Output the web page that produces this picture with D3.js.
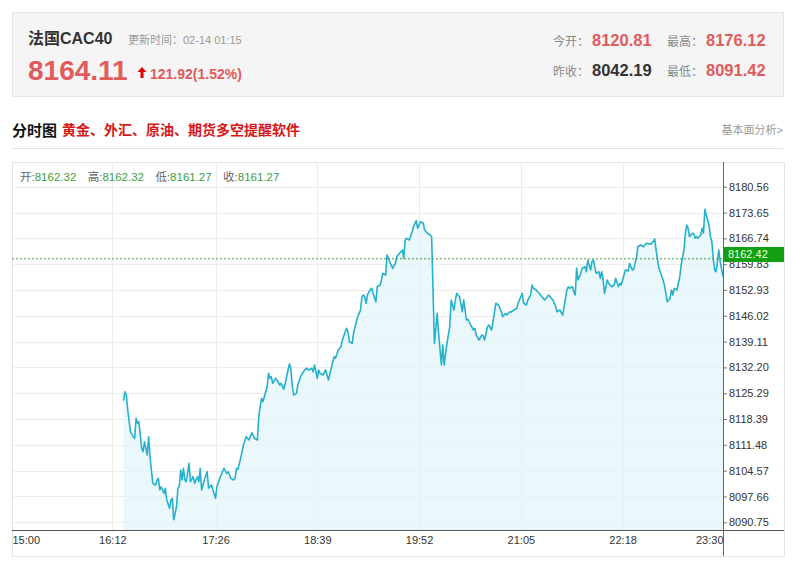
<!DOCTYPE html>
<html>
<head>
<meta charset="utf-8">
<script src="https://cdn.jsdelivr.net/npm/d3@7"></script>
<style>
  body { margin: 0; background: #fff; }
  svg text { font-family: "Liberation Sans", Arial, "Noto Sans CJK SC", sans-serif; }
</style>
</head>
<body>
<div id="chart"></div>
<script>
// header texts
const indexName = "法国CAC40";
const updateTime = "更新时间：02-14 01:15";
const lastPrice = "8164.11";
const priceChange = "121.92(1.52%)";
const quoteLabels = ["今开：", "最高：", "昨收：", "最低："];
const quoteValues = ["8120.81", "8176.12", "8042.19", "8091.42"];
const sectionTitle = "分时图";
const adText = "黄金、外汇、原油、期货多空提醒软件";
const linkText = "基本面分析>";

// hover bar info
const ohlcLabels = ["开:", "高:", "低:", "收:"];
const ohlcValues = ["8162.32", "8162.32", "8161.27", "8161.27"];

// axes
const yTicks = [8180.56, 8173.65, 8166.74, 8159.83, 8152.93, 8146.02, 8139.11,
                8132.20, 8125.29, 8118.39, 8111.48, 8104.57, 8097.66, 8090.75];
const xTickLabels = ["15:00", "16:12", "17:26", "18:39", "19:52", "21:05", "22:18", "23:30"];

// minutes after 15:00 and price
const minutes = [80, 81, 82, 83, 85, 87, 88, 89, 90, 91, 93, 94, 95, 97, 98, 99, 101, 103, 104, 105,
  106, 107, 109, 110, 111, 113, 114, 115, 116, 118, 119, 120, 121, 122, 123, 124, 125, 127, 128, 130,
  131, 133, 134, 135, 136, 138, 140, 141, 143, 146, 147, 149, 152, 154, 155, 157, 159, 160, 161, 162,
  164, 166, 168, 170, 172, 174, 176, 177, 178, 179, 180, 182, 183, 184, 185, 186, 187, 189, 190, 192,
  193, 195, 196, 198, 199, 200, 201, 202, 204, 205, 207, 209, 211, 213, 215, 216, 217, 219, 220, 221,
  223, 225, 226, 227, 229, 231, 232, 234, 236, 237, 239, 240, 241, 242, 244, 245, 247, 248, 250, 251,
  252, 253, 254, 255, 256, 258, 259, 261, 262, 264, 265, 266, 268, 269, 271, 273, 275, 276, 278, 280,
  281, 282, 283, 285, 287, 288, 290, 291, 293, 295, 296, 298, 300, 301, 303, 305, 306, 308, 309, 310,
  312, 314, 315, 317, 318, 319, 321, 323, 324, 326, 327, 329, 331, 332, 333, 335, 337, 338, 339, 341,
  342, 344, 346, 347, 349, 351, 352, 354, 355, 357, 358, 360, 362, 363, 364, 366, 367, 369, 370, 372,
  373, 374, 376, 378, 379, 381, 382, 384, 385, 386, 388, 390, 391, 393, 395, 396, 398, 399, 400, 402,
  403, 404, 405, 406, 408, 409, 411, 412, 413, 415, 416, 417, 418, 419, 421, 422, 423, 424, 425, 427,
  428, 430, 432, 433, 435, 436, 437, 439, 440, 442, 443, 445, 446, 448, 449, 451, 453, 455, 458, 460,
  461, 462, 464, 465, 467, 468, 469, 470, 472, 473, 474, 475, 477, 479, 480, 482, 483, 484, 485, 486,
  488, 489, 490, 491, 492, 494, 495, 496, 497, 498, 500, 501, 502, 503, 504, 505, 506, 507, 508, 510];
const prices = [8123.29, 8125.70, 8124.81, 8120.80, 8114.99, 8113.65, 8113.23, 8118.58, 8117.24, 8117.67,
  8110.55, 8109.64, 8112.32, 8108.76, 8113.65, 8108.30, 8101.18, 8100.73, 8102.07, 8102.52,
  8099.39, 8100.27, 8098.51, 8099.85, 8096.72, 8094.49, 8096.72, 8097.17, 8091.42, 8094.92,
  8099.85, 8100.46, 8104.74, 8102.07, 8105.20, 8102.07, 8101.61, 8106.54, 8101.61, 8102.95,
  8101.18, 8102.95, 8101.61, 8105.20, 8099.39, 8102.07, 8104.29, 8099.85, 8100.73, 8097.17,
  8100.27, 8102.52, 8105.20, 8103.86, 8104.29, 8102.52, 8102.07, 8102.52, 8105.20, 8104.90,
  8107.87, 8111.43, 8113.65, 8112.77, 8114.73, 8113.23, 8112.77, 8119.01, 8121.68, 8123.93,
  8123.02, 8125.70, 8127.04, 8130.62, 8129.28, 8129.71, 8127.95, 8129.28, 8128.83, 8127.49,
  8127.95, 8126.34, 8127.95, 8131.51, 8133.11, 8131.96, 8127.49, 8124.81, 8125.27, 8127.49,
  8129.71, 8131.05, 8131.96, 8131.51, 8131.96, 8131.05, 8132.84, 8129.28, 8131.51, 8130.62,
  8130.17, 8131.51, 8130.17, 8128.83, 8131.96, 8135.06, 8134.64, 8136.86, 8137.74, 8139.53,
  8141.76, 8142.66, 8141.76, 8139.08, 8138.65, 8141.33, 8144.43, 8145.77, 8147.56, 8151.12,
  8151.58, 8151.12, 8149.36, 8151.58, 8152.46, 8153.37, 8152.03, 8149.78, 8153.80, 8154.25,
  8155.59, 8157.38, 8156.93, 8162.28, 8160.49, 8158.72, 8160.06, 8161.83, 8162.74, 8163.62,
  8161.40, 8166.30, 8166.75, 8166.30, 8168.52, 8169.86, 8171.46, 8169.43, 8171.19, 8170.77,
  8168.97, 8168.09, 8167.63, 8167.18, 8138.65, 8146.68, 8141.33, 8132.84, 8138.20, 8132.84,
  8138.65, 8143.09, 8150.24, 8147.56, 8150.24, 8152.03, 8151.12, 8147.11, 8150.24, 8144.89,
  8145.10, 8143.55, 8142.21, 8142.66, 8140.87, 8139.53, 8140.87, 8140.70, 8139.53, 8143.09,
  8143.55, 8142.21, 8146.68, 8149.36, 8148.90, 8147.11, 8145.77, 8146.68, 8146.22, 8147.11,
  8147.00, 8147.56, 8148.02, 8149.36, 8150.24, 8152.03, 8149.36, 8148.90, 8150.24, 8151.58,
  8154.25, 8153.37, 8152.91, 8152.03, 8151.58, 8150.69, 8150.24, 8151.12, 8151.58, 8151.12,
  8150.24, 8148.45, 8147.11, 8147.56, 8146.22, 8148.45, 8152.91, 8153.80, 8153.37, 8153.80,
  8152.46, 8151.58, 8158.72, 8155.59, 8157.38, 8158.72, 8159.15, 8157.81, 8160.94, 8158.27,
  8160.49, 8160.94, 8159.15, 8157.38, 8157.81, 8156.05, 8157.81, 8155.59, 8152.03, 8155.59,
  8154.71, 8153.80, 8154.25, 8156.05, 8153.80, 8154.71, 8154.25, 8156.93, 8158.27, 8158.00,
  8160.06, 8158.27, 8158.50, 8161.83, 8164.50, 8164.96, 8164.50, 8165.41, 8165.20, 8165.84,
  8166.60, 8163.62, 8158.72, 8157.81, 8155.59, 8154.25, 8152.03, 8149.78, 8150.69, 8152.91,
  8151.58, 8153.37, 8152.91, 8156.47, 8159.61, 8163.62, 8168.09, 8170.31, 8169.43, 8167.18,
  8168.09, 8168.00, 8166.75, 8167.18, 8166.75, 8167.63, 8169.43, 8168.09, 8174.50, 8172.99,
  8170.31, 8167.18, 8165.84, 8161.40, 8158.27, 8157.81, 8160.49, 8163.62, 8160.49, 8156.47];
const lastClose = 8161.27;
const currentTag = 8162.42;

const width = 800;
const height = 567;
const plot = {left: 12, right: 723, top: 162, bottom: 530};
const panelRight = 784;
const panelBottom = 556;
const red = "#e15b5b";
const green = "#3c9e3c";

const svg = d3.select("#chart")
  .append("svg")
  .attr("width", width)
  .attr("height", height);

// ---------- header box
svg.append("rect")
  .attr("x", 12.5).attr("y", 12.5)
  .attr("width", 771).attr("height", 84)
  .attr("fill", "#f5f5f5")
  .attr("stroke", "#e6e6e6");

svg.append("text")
  .attr("x", 28).attr("y", 44)
  .attr("font-size", 16).attr("font-weight", "bold")
  .attr("fill", "#333")
  .text(indexName);

svg.append("text")
  .attr("x", 128).attr("y", 44)
  .attr("font-size", 11)
  .attr("fill", "#999")
  .text(updateTime);

svg.append("text")
  .attr("x", 28).attr("y", 80)
  .attr("font-size", 28).attr("font-weight", "bold")
  .attr("fill", red)
  .text(lastPrice);

// up arrow
svg.append("path")
  .attr("d", "M142,67 L146.5,72 L143.5,72 L143.5,78 L140.5,78 L140.5,72 L137.5,72 Z")
  .attr("fill", "#e30000");

svg.append("text")
  .attr("x", 150).attr("y", 79)
  .attr("font-size", 14).attr("font-weight", "bold")
  .attr("fill", red)
  .text(priceChange);

const quoteX = [553, 667];
const quoteY = [46, 76];
quoteLabels.forEach((label, i) => {
  const col = i % 2;
  const row = Math.floor(i / 2);
  svg.append("text")
    .attr("x", quoteX[col]).attr("y", quoteY[row])
    .attr("font-size", 12)
    .attr("fill", "#888")
    .text(label);
  svg.append("text")
    .attr("x", quoteX[col] + 39).attr("y", quoteY[row])
    .attr("font-size", 16.5).attr("font-weight", "bold")
    .attr("fill", i === 2 ? "#333" : red)
    .text(quoteValues[i]);
});

// ---------- title row
svg.append("text")
  .attr("x", 12).attr("y", 136)
  .attr("font-size", 15).attr("font-weight", "bold")
  .attr("fill", "#111")
  .text(sectionTitle);

svg.append("text")
  .attr("x", 62).attr("y", 135)
  .attr("font-size", 14).attr("font-weight", "bold")
  .attr("fill", "#d71818")
  .text(adText);

svg.append("text")
  .attr("x", 783).attr("y", 134)
  .attr("text-anchor", "end")
  .attr("font-size", 11)
  .attr("fill", "#999")
  .text(linkText);

svg.append("line")
  .attr("x1", 12).attr("x2", 783)
  .attr("y1", 148.5).attr("y2", 148.5)
  .attr("stroke", "#e2e2e2");

// ---------- chart panel
svg.append("rect")
  .attr("x", plot.left + 0.5).attr("y", plot.top + 0.5)
  .attr("width", panelRight - plot.left).attr("height", panelBottom - plot.top)
  .attr("fill", "#fff")
  .attr("stroke", "#e3e3e3");

const toMinutes = s => {
  const parts = s.split(":");
  return +parts[0] * 60 + +parts[1] - 15 * 60;
};
const xTickMinutes = xTickLabels.map(toMinutes);

const x = d3.scaleLinear()
  .domain([xTickMinutes[0], xTickMinutes[xTickMinutes.length - 1]])
  .range([plot.left, plot.right]);

const y = d3.scaleLinear()
  .domain([yTicks[yTicks.length - 1], yTicks[0]])
  .range([522.3, 186.7]);

const data = minutes.map((m, i) => ({m: m, v: prices[i]}));

// gridlines
svg.append("g")
  .selectAll("line")
  .data(yTicks)
  .enter()
  .append("line")
  .attr("x1", plot.left).attr("x2", plot.right)
  .attr("y1", d => Math.round(y(d)) + 0.5)
  .attr("y2", d => Math.round(y(d)) + 0.5)
  .attr("stroke", "#ececec");

svg.append("g")
  .selectAll("line")
  .data(xTickMinutes.slice(1, -1))
  .enter()
  .append("line")
  .attr("x1", d => Math.round(x(d)) + 0.5)
  .attr("x2", d => Math.round(x(d)) + 0.5)
  .attr("y1", plot.top).attr("y2", plot.bottom)
  .attr("stroke", "#ececec");

// area + line
const area = d3.area()
  .x(d => x(d.m))
  .y0(plot.bottom)
  .y1(d => y(d.v));

svg.append("path")
  .datum(data)
  .attr("d", area)
  .attr("fill", "#e3f4fa")
  .attr("fill-opacity", 0.75);

const line = d3.line()
  .x(d => x(d.m))
  .y(d => y(d.v));

svg.append("path")
  .datum(data)
  .attr("d", line)
  .attr("fill", "none")
  .attr("stroke", "#24b1cb")
  .attr("stroke-width", 1.6)
  .attr("stroke-linejoin", "round");

// last close dashed line
svg.append("line")
  .attr("x1", plot.left).attr("x2", plot.right)
  .attr("y1", y(lastClose)).attr("y2", y(lastClose))
  .attr("stroke", "#3a9a3a")
  .attr("stroke-dasharray", "2,2");

// right axis
const yAxis = d3.axisRight(y)
  .tickValues(yTicks)
  .tickSize(4)
  .tickPadding(2)
  .tickFormat(d3.format(".2f"));

const yAxisG = svg.append("g")
  .attr("transform", "translate(" + plot.right + ",0)")
  .call(yAxis);
yAxisG.select(".domain").remove();
yAxisG.selectAll(".tick line").attr("stroke", "#777");
yAxisG.selectAll(".tick text")
  .attr("font-size", 11)
  .attr("font-family", "Liberation Sans, Arial, sans-serif")
  .attr("fill", "#333");

// bottom axis
const xAxis = d3.axisBottom(x)
  .tickValues(xTickMinutes)
  .tickSize(0)
  .tickPadding(6)
  .tickFormat((d, i) => xTickLabels[i]);

const xAxisG = svg.append("g")
  .attr("transform", "translate(0," + plot.bottom + ")")
  .call(xAxis);
xAxisG.select(".domain").remove();
xAxisG.selectAll(".tick text")
  .attr("font-size", 11)
  .attr("font-family", "Liberation Sans, Arial, sans-serif")
  .attr("fill", "#333")
  .attr("text-anchor", (d, i) => i === 0 ? "start" : (i === xTickLabels.length - 1 ? "end" : "middle"));

svg.append("line")
  .attr("x1", plot.left).attr("x2", panelRight)
  .attr("y1", plot.bottom + 0.5).attr("y2", plot.bottom + 0.5)
  .attr("stroke", "#555");

svg.append("line")
  .attr("x1", plot.right + 0.5).attr("x2", plot.right + 0.5)
  .attr("y1", plot.top).attr("y2", panelBottom)
  .attr("stroke", "#666");

// current value tag
svg.append("rect")
  .attr("x", plot.right + 1).attr("y", y(currentTag) - 7.5)
  .attr("width", panelRight - plot.right - 1).attr("height", 15)
  .attr("fill", "#12a012");

svg.append("text")
  .attr("x", plot.right + 5).attr("y", y(currentTag))
  .attr("dy", "0.35em")
  .attr("font-size", 11)
  .attr("fill", "#e8ffd8")
  .text(d3.format(".2f")(currentTag));

// OHLC info row
const ohlc = svg.append("g");
ohlcLabels.forEach((label, i) => {
  const t = ohlc.append("text")
    .attr("x", 20 + i * 67.7).attr("y", 181)
    .attr("font-size", 11.5);
  t.append("tspan").attr("fill", "#666").text(label);
  t.append("tspan").attr("fill", green).text(ohlcValues[i]);
});
</script>
</body>
</html>
